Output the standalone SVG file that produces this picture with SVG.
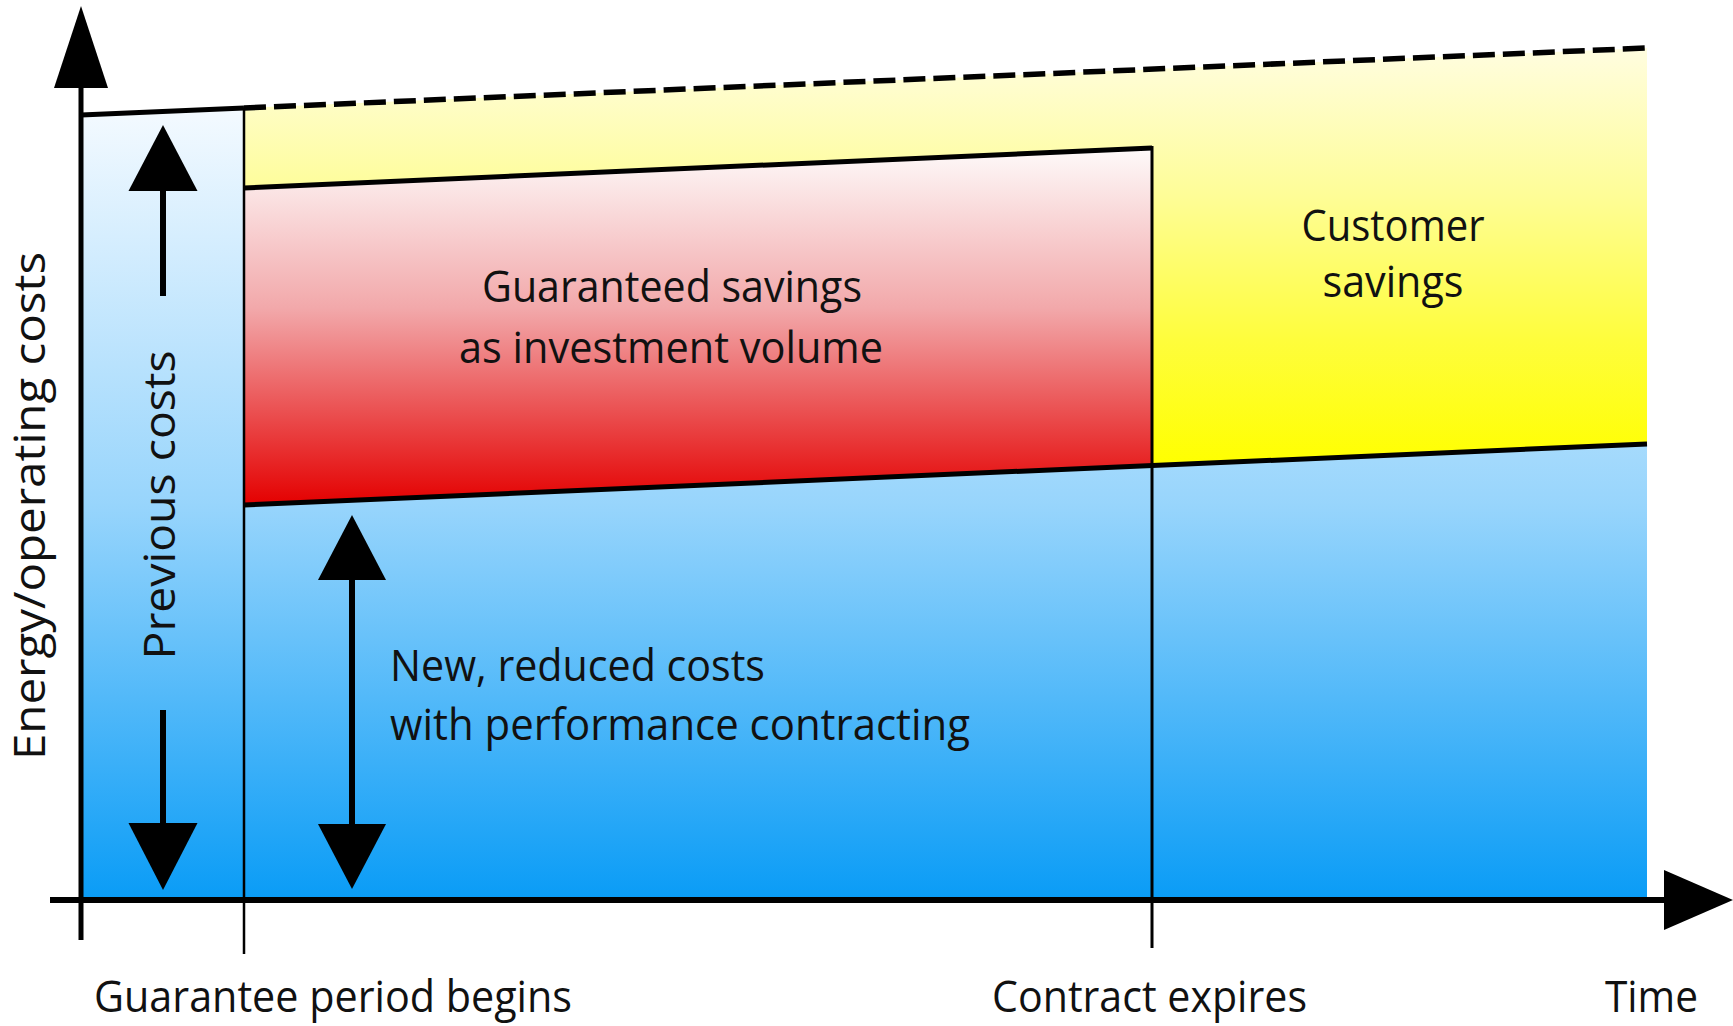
<svg xmlns="http://www.w3.org/2000/svg" width="1733" height="1026" viewBox="0 0 1733 1026">
<style>
text{font-family:"Open Sans","Noto Sans","Liberation Sans",sans-serif;font-size:44px;fill:#111}
.thick{stroke:#000;stroke-width:5;fill:none}
.thin{stroke:#000;stroke-width:2.5;fill:none}
.arrow{fill:#000}
</style>
<defs>
<linearGradient id="gBlue" gradientUnits="userSpaceOnUse" x1="0" y1="108" x2="0" y2="899">
<stop offset="0" stop-color="#f4faff"/>
<stop offset="0.5" stop-color="#98d5fc"/>
<stop offset="1" stop-color="#0a9cf6"/>
</linearGradient>
<linearGradient id="gYellow" gradientUnits="userSpaceOnUse" x1="0" y1="48" x2="0" y2="465">
<stop offset="0" stop-color="#fffde0"/>
<stop offset="0.35" stop-color="#fefd98"/>
<stop offset="0.7" stop-color="#fefd3c"/>
<stop offset="1" stop-color="#ffff00"/>
</linearGradient>
<linearGradient id="gRed" gradientUnits="userSpaceOnUse" x1="0" y1="148" x2="0" y2="505">
<stop offset="0" stop-color="#fefafa"/>
<stop offset="0.45" stop-color="#f2a8aa"/>
<stop offset="1" stop-color="#e40000"/>
</linearGradient>
</defs>
<rect width="1733" height="1026" fill="#ffffff"/>

<g id="previous-costs">
<polygon points="81,115 244,108 244,900 81,900" fill="url(#gBlue)"/>
</g>
<g id="customer-savings">
<polygon points="244,108 1647,48 1647,444 244,505" fill="url(#gYellow)"/>
<text x="1393" y="241" text-anchor="middle" textLength="183" lengthAdjust="spacingAndGlyphs">Customer</text>
<text x="1393" y="297" text-anchor="middle" textLength="141" lengthAdjust="spacingAndGlyphs">savings</text>
</g>
<g id="new-costs">
<polygon points="244,505 1647,444 1647,900 244,900" fill="url(#gBlue)"/>
</g>
<g id="guaranteed-savings">
<polygon points="244,188 1152,148 1152,465.5 244,505" fill="url(#gRed)"/>
<text x="672" y="302" text-anchor="middle" textLength="380" lengthAdjust="spacingAndGlyphs">Guaranteed savings</text>
<text x="671" y="363" text-anchor="middle" textLength="424" lengthAdjust="spacingAndGlyphs">as investment volume</text>
</g>

<g id="connectors">
<line class="thick" x1="81" y1="115" x2="244" y2="108"/>
<line class="thick" x1="244" y1="108" x2="1647" y2="48" stroke-dasharray="22,8" style="stroke-width:5.5"/>
<line class="thick" x1="244" y1="188" x2="1152" y2="148"/>
<line class="thick" x1="244" y1="505" x2="1647" y2="444"/>
<line class="thin" x1="244" y1="108" x2="244" y2="954"/>
<line class="thin" x1="1152" y1="146" x2="1152" y2="948" style="stroke-width:3"/>
<line class="thick" x1="81" y1="80" x2="81" y2="940"/>
<polygon class="arrow" points="81,6 108,88 54,88"/>
<line class="thick" x1="50" y1="900" x2="1670" y2="900" style="stroke-width:6"/>
<polygon class="arrow" points="1733,900 1664,870 1664,930"/>
<line class="thick" x1="163" y1="185" x2="163" y2="296" style="stroke-width:6"/>
<polygon class="arrow" points="163,125 197.5,191 128.5,191"/>
<line class="thick" x1="163" y1="710" x2="163" y2="830" style="stroke-width:6"/>
<polygon class="arrow" points="163,890 197.5,823 128.5,823"/>
<line class="thick" x1="352" y1="575" x2="352" y2="830" style="stroke-width:6"/>
<polygon class="arrow" points="352,515 386,580 318,580"/>
<polygon class="arrow" points="352,889 386,824 318,824"/>
</g>

<g id="labels">
<text transform="translate(45,506) rotate(-90)" text-anchor="middle" textLength="508" lengthAdjust="spacingAndGlyphs">Energy/operating costs</text>
<text transform="translate(175,505) rotate(-90)" text-anchor="middle" textLength="309" lengthAdjust="spacingAndGlyphs">Previous costs</text>
<text x="390" y="681" textLength="375" lengthAdjust="spacingAndGlyphs">New, reduced costs</text>
<text x="390" y="740" textLength="580" lengthAdjust="spacingAndGlyphs">with performance contracting</text>
<text x="94" y="1012" textLength="478" lengthAdjust="spacingAndGlyphs">Guarantee period begins</text>
<text x="992" y="1012" textLength="315" lengthAdjust="spacingAndGlyphs">Contract expires</text>
<text x="1605" y="1012" textLength="93" lengthAdjust="spacingAndGlyphs">Time</text>
</g>
</svg>
